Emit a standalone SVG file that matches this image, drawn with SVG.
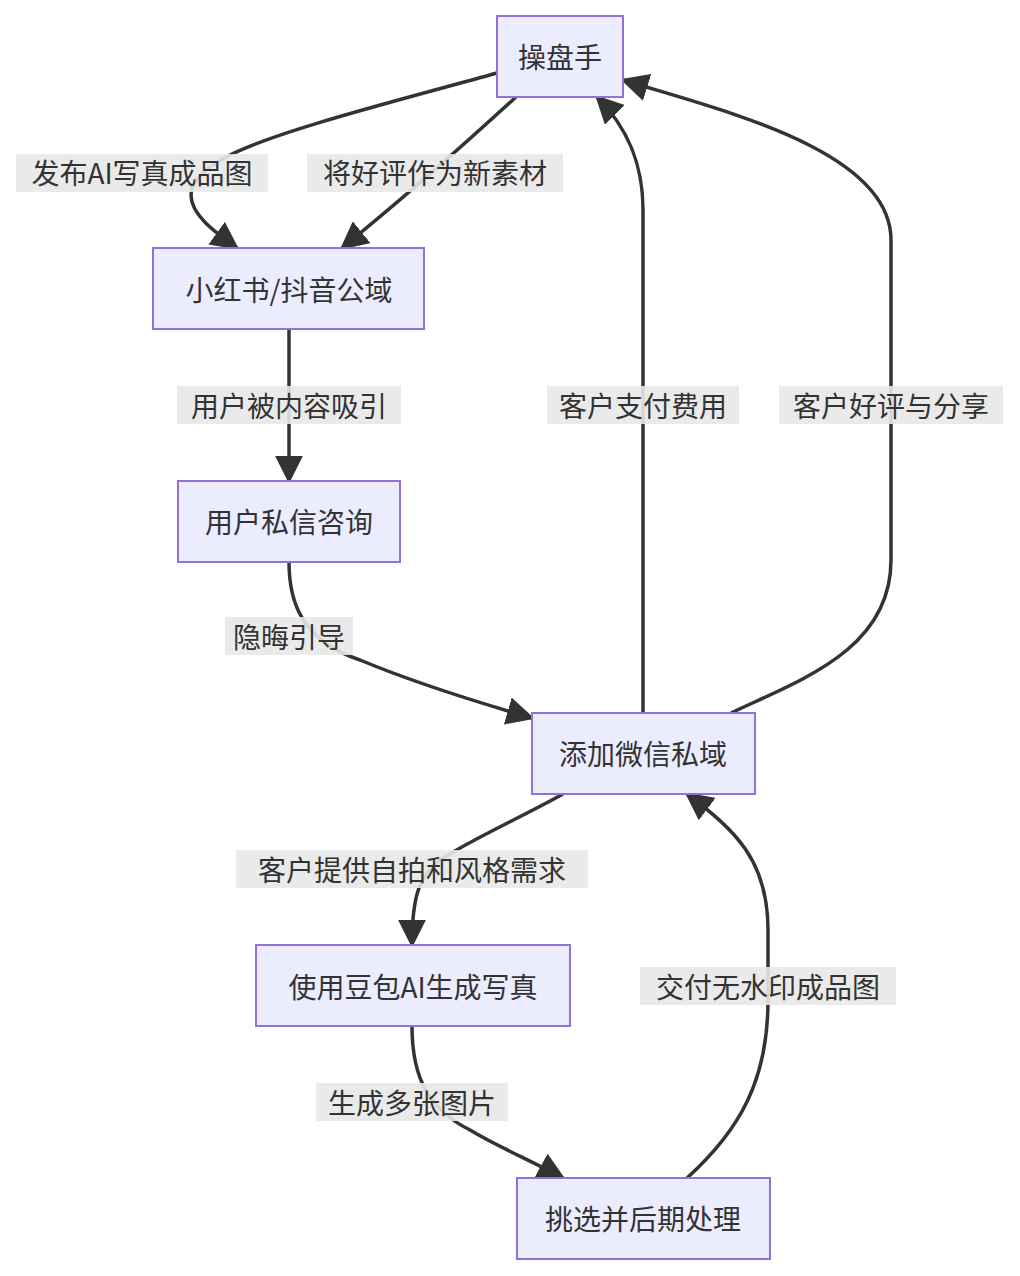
<svg xmlns="http://www.w3.org/2000/svg" width="1020" height="1276" viewBox="0 0 1020 1276">
<style>
.n rect{fill:#ECECFF;stroke:#9370DB;stroke-width:2}
text{font-family:"Noto Sans CJK SC","Noto Sans",sans-serif;font-size:28px;fill:#333;text-anchor:middle;dominant-baseline:central}
.e path{fill:none;stroke:#333;stroke-width:3.5}
.l rect{fill:#e8e8e8;opacity:0.9}
</style>
<defs><marker id="a" viewBox="0 0 10 10" refX="9" refY="5" markerWidth="7" markerHeight="7" markerUnits="userSpaceOnUse" orient="auto"><path d="M0,0L10,5L0,10z" fill="#333"/></marker>
<marker id="b" viewBox="0 0 10 10" refX="9" refY="5" markerWidth="8" markerHeight="8" orient="auto"><path d="M0,0L10,5L0,10z" fill="#333"/></marker></defs>
<rect width="1020" height="1276" fill="#fff"/>
<g class="e">
<path marker-end="url(#b)" d="M497,73C400,100 280,130 230,155C200,170 191,185 191,195C191,215 215,232 237,248"/>
<path marker-end="url(#b)" d="M516,97C480,130 420,185 342,248"/>
<path marker-end="url(#b)" d="M289,329L289,481"/>
<path marker-end="url(#b)" d="M289,562C289,600 300,640 360,660C420,685 480,703 532,718"/>
<path marker-end="url(#b)" d="M643,713L643,210C643,160 625,125 597,97"/>
<path marker-end="url(#b)" d="M731,713C800,680 891,650 891,560L891,240C891,150 720,110 623,80"/>
<path marker-end="url(#b)" d="M563,794C520,818 470,840 440,860C420,875 412,895 412,945"/>
<path marker-end="url(#b)" d="M412,1026C412,1080 430,1110 470,1130C500,1148 530,1160 563,1178"/>
<path marker-end="url(#b)" d="M687,1178C740,1130 768,1080 768,1000L768,930C768,860 735,830 687,794"/>
</g>
<g class="l">
<rect x="16" y="154" width="252" height="38"/><text x="142" y="172">发布AI写真成品图</text>
<rect x="307" y="154" width="256" height="38"/><text x="435" y="172">将好评作为新素材</text>
<rect x="177" y="386" width="224" height="38"/><text x="289" y="405">用户被内容吸引</text>
<rect x="225" y="617" width="128" height="38"/><text x="289" y="636">隐晦引导</text>
<rect x="547" y="386" width="192" height="38"/><text x="643" y="405">客户支付费用</text>
<rect x="779" y="386" width="224" height="38"/><text x="891" y="405">客户好评与分享</text>
<rect x="236" y="850" width="352" height="38"/><text x="412" y="869">客户提供自拍和风格需求</text>
<rect x="640" y="967" width="256" height="38"/><text x="768" y="986">交付无水印成品图</text>
<rect x="316" y="1083" width="192" height="38"/><text x="412" y="1102">生成多张图片</text>
</g>
<g id="n1" class="n"><rect x="497" y="16" width="126" height="81"/><text x="560" y="56">操盘手</text></g>
<g id="n2" class="n"><rect x="153" y="248" width="271" height="81"/><text x="289" y="289">小红书/抖音公域</text></g>
<g id="n3" class="n"><rect x="178" y="481" width="222" height="81"/><text x="289" y="521">用户私信咨询</text></g>
<g id="n4" class="n"><rect x="532" y="713" width="223" height="81"/><text x="643" y="753">添加微信私域</text></g>
<g id="n5" class="n"><rect x="256" y="945" width="314" height="81"/><text x="413" y="986">使用豆包AI生成写真</text></g>
<g id="n6" class="n"><rect x="517" y="1178" width="253" height="81"/><text x="643" y="1218">挑选并后期处理</text></g>
</svg>
